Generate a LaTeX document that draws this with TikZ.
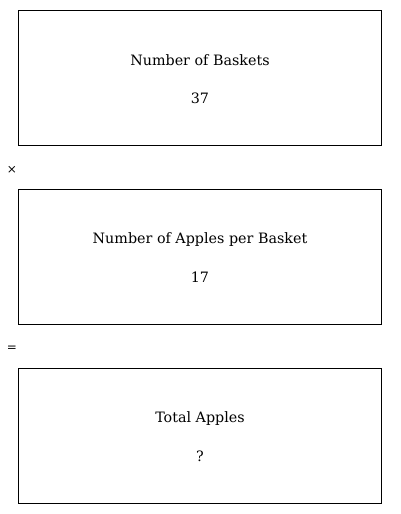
\documentclass[tikz,border=0pt]{standalone}
\usepackage{fontspec}
\setmainfont{DejaVu Serif}
\begin{document}
\begin{tikzpicture}[x=1pt,y=-1pt,
  qbox/.style={draw=black,line width=0.8pt,minimum width=363pt,minimum height=135pt,inner sep=0pt},
  lbl/.style={font=\fontsize{14.3}{16}\selectfont,inner sep=0pt},
  op/.style={font=\fontsize{12}{14}\selectfont,inner sep=0pt}]
\useasboundingbox (0,0) rectangle (400,514);
\node[qbox] (b1) at (199.5,77.5) {};
\node[qbox] (b2) at (199.5,256.5) {};
\node[qbox] (b3) at (199.5,435.5) {};
\node[lbl] (t1) at (200,60.5) {Number of Baskets};
\node[lbl] (v1) at (200,98) {37};
\node[lbl] (t2) at (200,239.5) {Number of Apples per Basket};
\node[lbl] (v2) at (200,277) {17};
\node[lbl] (t3) at (200,418.5) {Total Apples};
\node[lbl] (v3) at (200,456) {?};
\node[op] (times) at (12,170) {×};
\node[op] (eq) at (12,349) {=};
\end{tikzpicture}
\end{document}
